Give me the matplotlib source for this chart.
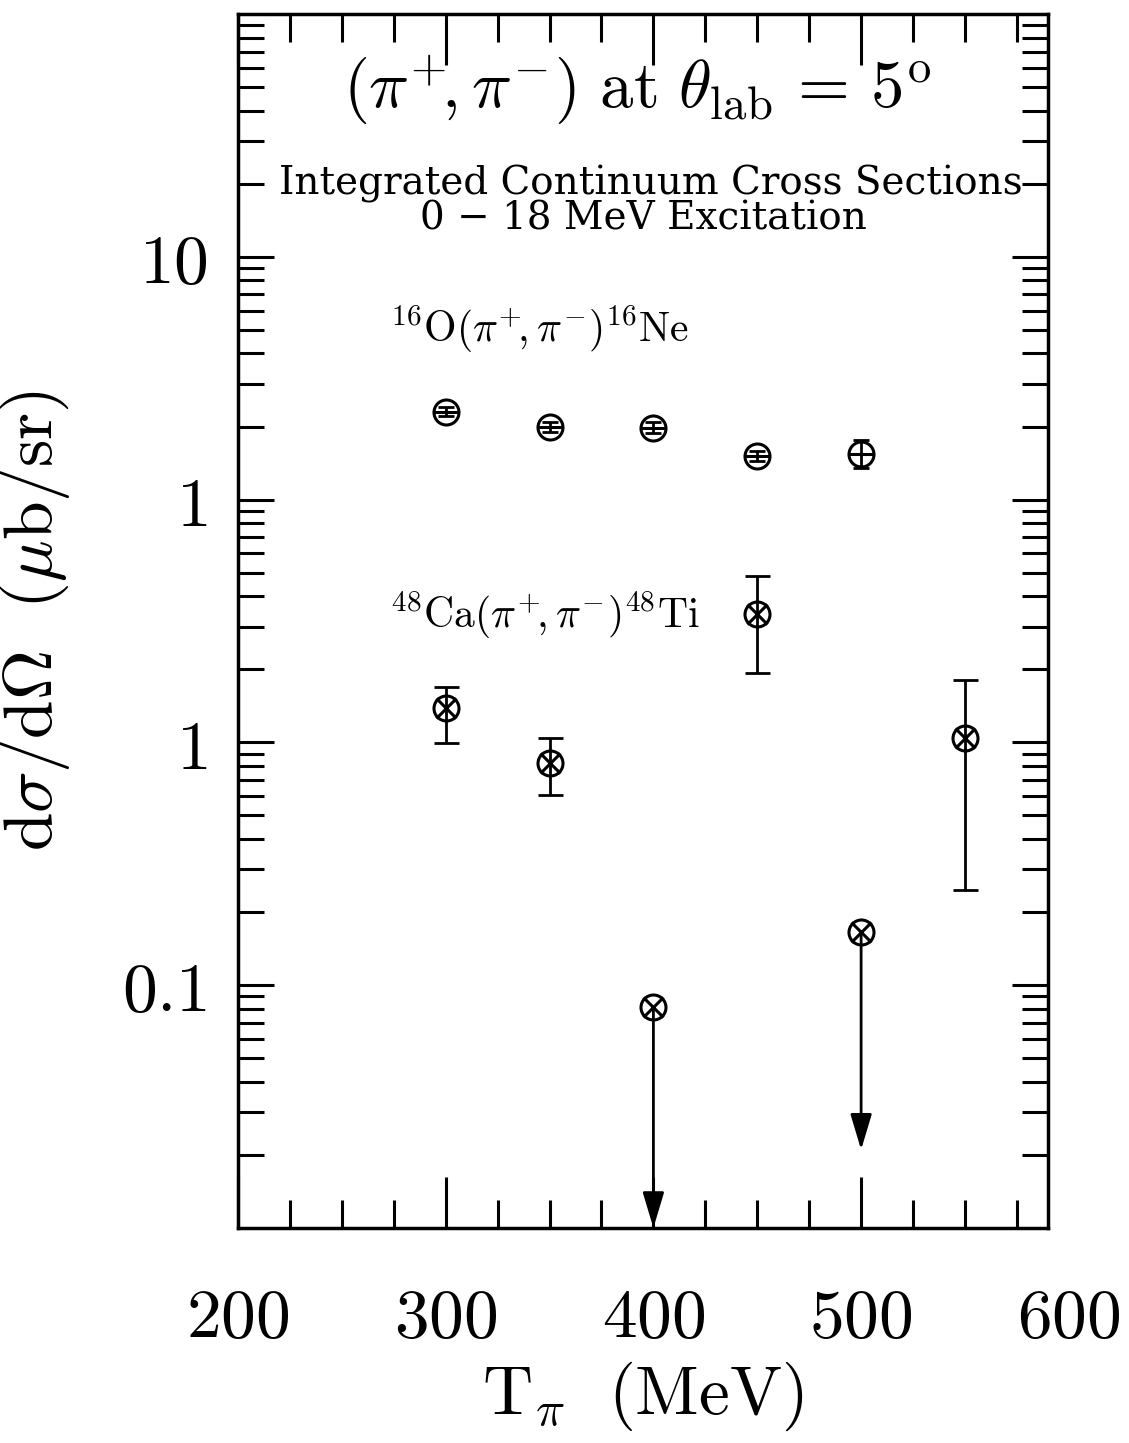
import matplotlib
matplotlib.use("Agg")
import matplotlib.pyplot as plt
import matplotlib.ticker as mticker
import numpy as np

plt.rcParams['mathtext.fontset'] = 'cm'
plt.rcParams['font.family'] = ['DejaVu Serif']

# 16O(pi+,pi-)16Ne  (upper scale, plotted x10 relative to the 48Ca scale)
T_O = [300, 350, 400, 450, 500]
sig_O = [2.30, 1.99, 1.98, 1.51, 1.54]
sig_O_lo = [2.20, 1.90, 1.88, 1.44, 1.35]
sig_O_hi = [2.40, 2.08, 2.08, 1.58, 1.76]
O_scale = 10.0

# 48Ca(pi+,pi-)48Ti
T_Ca = [300, 350, 450, 550]
sig_Ca = [1.39, 0.82, 3.38, 1.04]
sig_Ca_lo = [0.995, 0.61, 1.93, 0.247]
sig_Ca_hi = [1.69, 1.04, 4.84, 1.81]

# 48Ca upper limits (arrows)
T_lim = [400, 500]
sig_lim = [0.081, 0.166]
lim_tip = [0.010, 0.021]

# y tick labels (in 48Ca units)
ytick_vals = [100, 10, 1, 0.1]
ytick_labels = ['10', '1', '1', '0.1']
xtick_vals = [200, 300, 400, 500]
xtick_extra = 600

fig = plt.figure(figsize=(11.29, 14.43), dpi=100)
ax = fig.add_axes([0.2108, 0.149, 0.7175, 0.8413])
ax.set_yscale('log')
ax.set_xlim(200, 590)
ax.set_ylim(0.01, 1000)

# O16 points
yO = np.array(sig_O) * O_scale
ax.errorbar(T_O, yO,
            yerr=[yO - np.array(sig_O_lo) * O_scale, np.array(sig_O_hi) * O_scale - yO],
            fmt='none', ecolor='k', elinewidth=2, capsize=6, capthick=2)
ax.plot(T_O, yO, 'o', ms=18, mfc='none', mec='k', mew=2.2)
ax.plot(T_O, yO, '_', ms=18, mec='k', mew=2.2)

# Ca48 points
yC = np.array(sig_Ca)
ax.errorbar(T_Ca, yC, yerr=[yC - np.array(sig_Ca_lo), np.array(sig_Ca_hi) - yC],
            fmt='none', ecolor='k', elinewidth=2, capsize=9, capthick=2)
ax.plot(T_Ca + T_lim, list(sig_Ca) + sig_lim, 'o', ms=18, mfc='none', mec='k', mew=2.2)
ax.plot(T_Ca + T_lim, list(sig_Ca) + sig_lim, 'x', ms=15, mec='k', mew=2.2)

for t, v, tip in zip(T_lim, sig_lim, lim_tip):
    ax.annotate('', xy=(t, tip), xytext=(t, v),
                arrowprops=dict(arrowstyle='-|>,head_length=1.1,head_width=0.33',
                                lw=2, color='k', mutation_scale=20,
                                shrinkA=0, shrinkB=0))

# ticks
ax.yaxis.set_major_locator(mticker.LogLocator(base=10, numticks=20))
ax.yaxis.set_minor_locator(mticker.LogLocator(base=10, subs=np.arange(2, 10), numticks=20))
ax.yaxis.set_minor_formatter(mticker.NullFormatter())
ax.set_yticks(ytick_vals)
ax.set_yticklabels([r'$\mathrm{%s}$' % s for s in ytick_labels])
ax.set_xticks(xtick_vals)
ax.set_xticklabels([r'$\mathrm{%d}$' % v for v in xtick_vals])
ax.xaxis.set_minor_locator(mticker.MultipleLocator(25))
# 600 sits just past the right edge of the frame
ax.text(xtick_extra, -0.047, r'$\mathrm{%d}$' % xtick_extra, transform=ax.get_xaxis_transform(),
        ha='center', va='top', fontsize=50, clip_on=False)

ax.tick_params(which='both', direction='in', top=True, right=True, width=2.2)
ax.tick_params(axis='y', which='major', length=26, labelsize=50, pad=22)
ax.tick_params(axis='y', which='minor', length=19)
ax.tick_params(axis='x', which='major', length=37, labelsize=50, pad=41)
ax.tick_params(axis='x', which='minor', length=20)
for s in ax.spines.values():
    s.set_linewidth(2.5)

ax.set_xlabel(r'$\mathrm{T}_{\pi}\ \ (\mathrm{MeV})$', fontsize=50, labelpad=6)
ax.set_ylabel(r'$\mathrm{d}\sigma/\mathrm{d}\Omega\ \ (\mu\mathrm{b/sr})$', fontsize=50, labelpad=36)

ax.text(0.493, 0.937, r'$(\pi^{+}\!,\pi^{-})\ \mathrm{at}\ \theta_{\mathrm{lab}}\,=\,5^{\mathrm{o}}$',
        transform=ax.transAxes, ha='center', va='center', fontsize=48)
ax.text(0.51, 0.86, 'Integrated Continuum Cross Sections', transform=ax.transAxes,
        ha='center', va='center', fontsize=28)
ax.text(0.50, 0.831, '0 \u2212 18 MeV Excitation', transform=ax.transAxes,
        ha='center', va='center', fontsize=28)
ax.text(0.188, 0.74, r'$^{16}\mathrm{O}(\pi^{+}\!,\pi^{-})^{16}\mathrm{Ne}$', transform=ax.transAxes,
        ha='left', va='center', fontsize=30)
ax.text(0.188, 0.505, r'$^{48}\mathrm{Ca}(\pi^{+}\!,\pi^{-})^{48}\mathrm{Ti}$', transform=ax.transAxes,
        ha='left', va='center', fontsize=30)

fig.savefig('out.png', dpi=100)
